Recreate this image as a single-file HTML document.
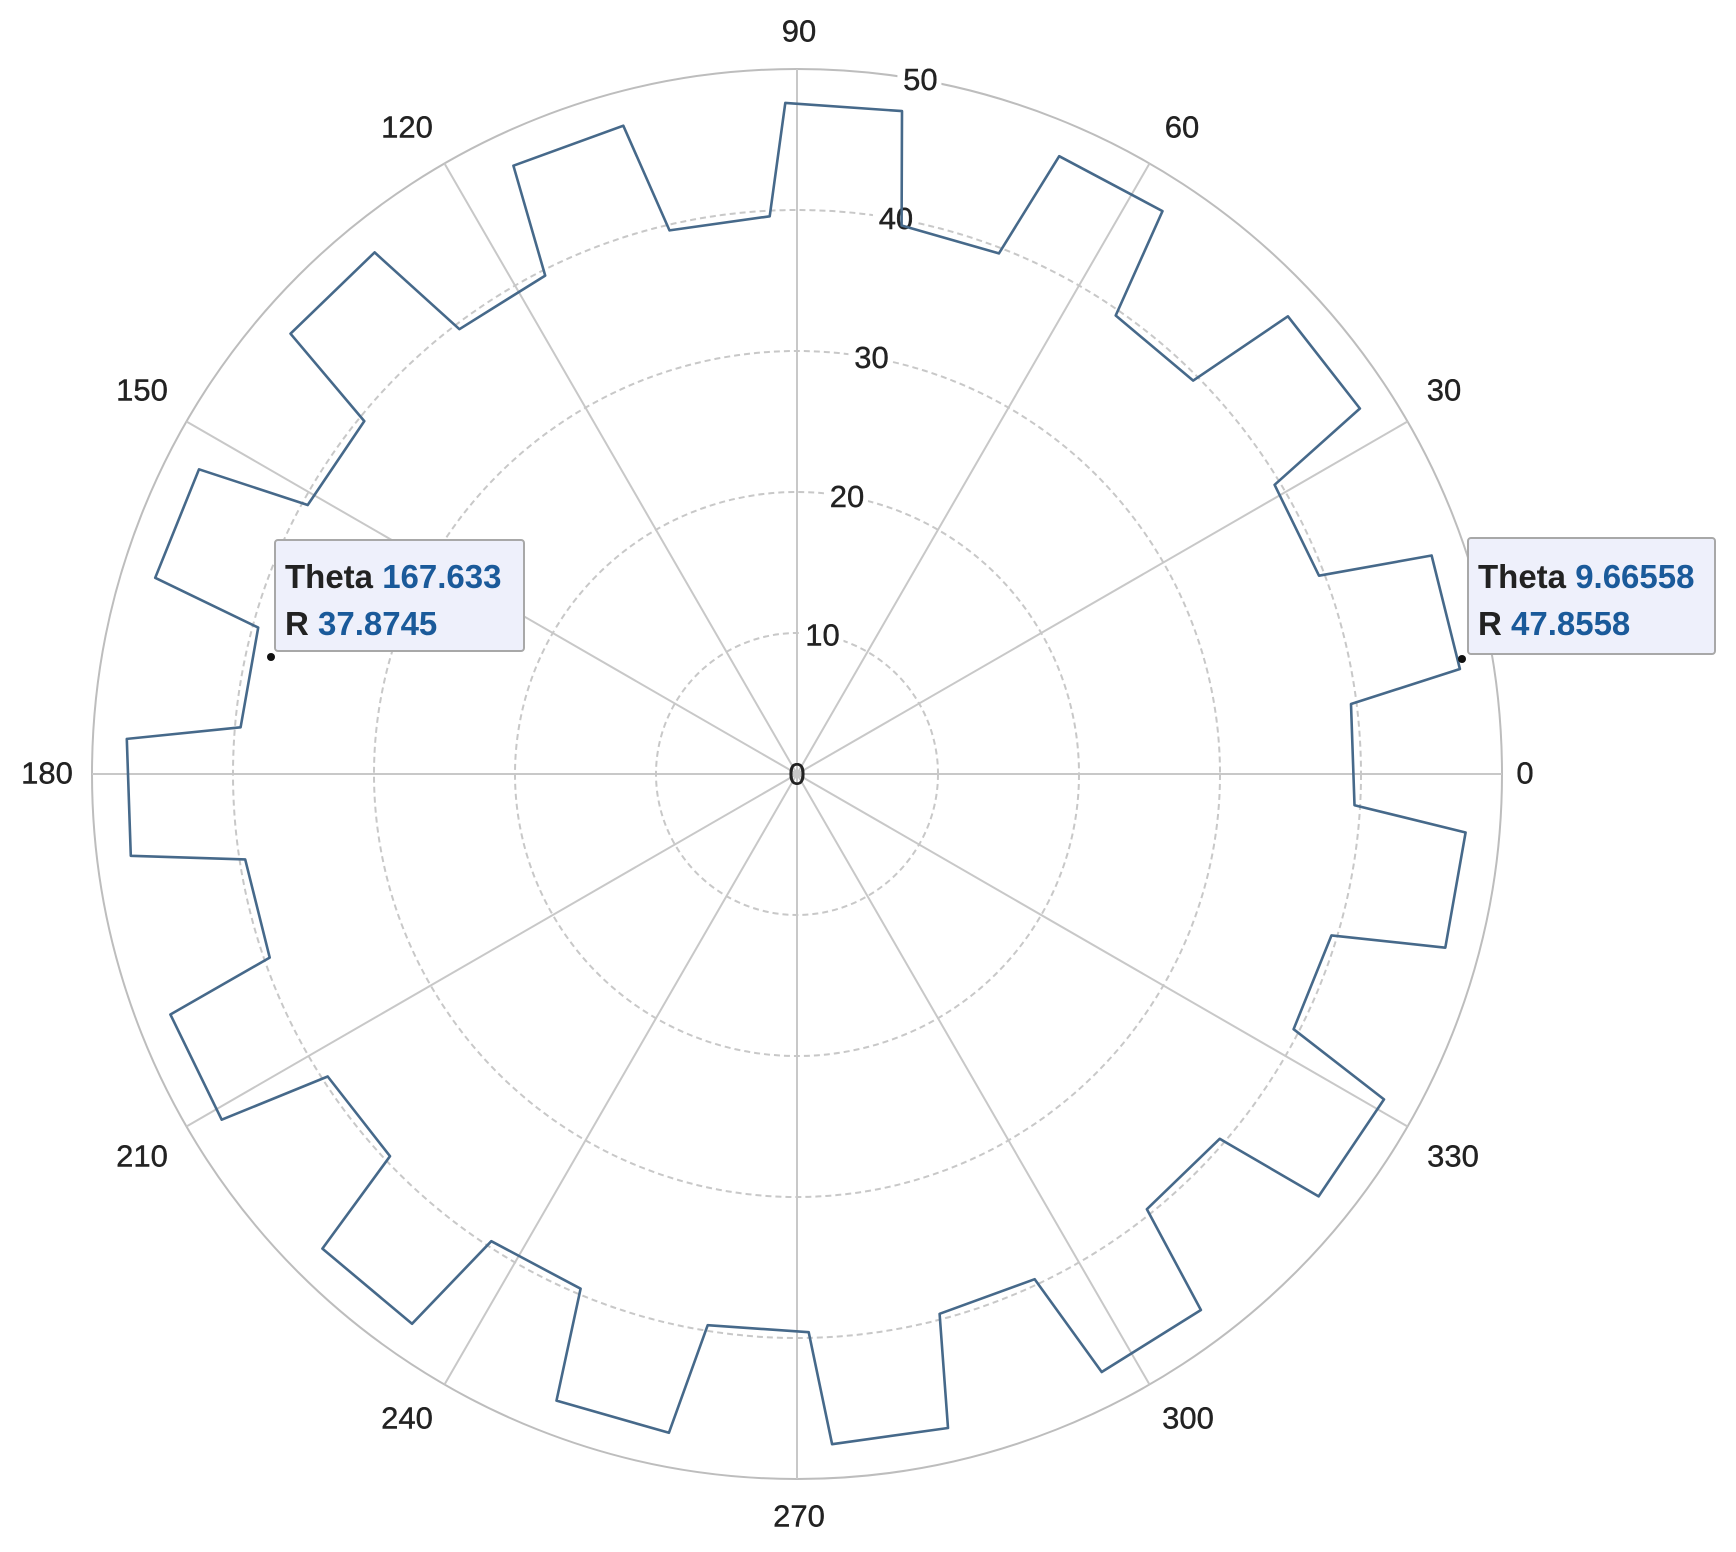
<!DOCTYPE html>
<html><head><meta charset="utf-8"><style>
html,body{margin:0;padding:0;background:#fff;}
svg{display:block;}
text{font-family:"Liberation Sans",sans-serif;}
</style></head><body>
<svg id="s" width="1736" height="1552" viewBox="0 0 1736 1552" xmlns="http://www.w3.org/2000/svg">
<rect width="1736" height="1552" fill="#fff"/>
<g id="grid" fill="none" stroke="#c8c8c8" stroke-width="2"></g>
<g id="lbl" font-size="31" fill="#222" text-anchor="middle" dominant-baseline="central" stroke="#222" stroke-width="0.4"></g>
<path id="gear" fill="none" stroke="#46698a" stroke-width="2.6" stroke-linejoin="round"/>
<g font-weight="bold" font-size="33">
<rect x="275" y="540" width="249" height="111" rx="3" fill="#eef0fb" stroke="#a8a8a8" stroke-width="2"/>
<text x="285" y="588" fill="#222">Theta <tspan fill="#1a5a9a">167.633</tspan></text>
<text x="285" y="635" fill="#222">R <tspan fill="#1a5a9a">37.8745</tspan></text>
<circle cx="271" cy="657" r="4" fill="#111"/>
<rect x="1468" y="538" width="247" height="116" rx="3" fill="#eef0fb" stroke="#a8a8a8" stroke-width="2"/>
<text x="1478" y="588" fill="#222">Theta <tspan fill="#1a5a9a">9.66558</tspan></text>
<text x="1478" y="635" fill="#222">R <tspan fill="#1a5a9a">47.8558</tspan></text>
<circle cx="1462" cy="659" r="4" fill="#111"/>
</g>
</svg>
<script>
var cx=797,cy=774,k=14.1,NS="http://www.w3.org/2000/svg";
function el(p,t,a,txt){var e=document.createElementNS(NS,t);for(var i in a)e.setAttribute(i,a[i]);if(txt!==undefined)e.textContent=txt;document.getElementById(p).appendChild(e);return e;}
function P(a,r){var t=a*Math.PI/180;return [cx+r*k*Math.cos(t),cy-r*k*Math.sin(t)];}
for(var r=10;r<=40;r+=10)el("grid","circle",{cx:cx,cy:cy,r:r*k,"stroke-dasharray":"6 4"});
el("grid","circle",{cx:cx,cy:cy,r:50*k,stroke:"#bdbdbd"});
for(var a=0;a<180;a+=30){var p1=P(a,50),p2=P(a+180,50);el("grid","line",{x1:p1[0],y1:p1[1],x2:p2[0],y2:p2[1]});}
var L=[[0,1525,773],[30,1444,390],[60,1182,127],[90,799,31],[120,407,127],[150,142,390],[180,47,773],[210,142,1156],[240,407,1418],[270,799,1516],[300,1188,1418],[330,1453,1156]];
L.forEach(function(l){el("lbl","text",{x:l[1],y:l[2]},String(l[0]));});
for(var r=10;r<=50;r+=10){var p=P(80,r);el("grid","rect",{x:p[0]-22,y:p[1]-16,width:44,height:32,fill:"#fff",stroke:"none"});el("lbl","text",{x:p[0]+1,y:p[1]},String(r));}
el("lbl","text",{x:cx,y:cy},"0");
var d="",first=true;
for(var i=0;i<15;i++){var c=14+24*i;
 var pts=[[c-6.8,39.6],[c-5,47.6],[c+5,47.6],[c+6.8,39.6]];
 for(var j=0;j<4;j++){var p=P(pts[j][0],pts[j][1]);d+=(first?"M":"L")+p[0].toFixed(1)+","+p[1].toFixed(1);first=false;}
}
d+="Z";document.getElementById("gear").setAttribute("d",d);
</script>
</body></html>
